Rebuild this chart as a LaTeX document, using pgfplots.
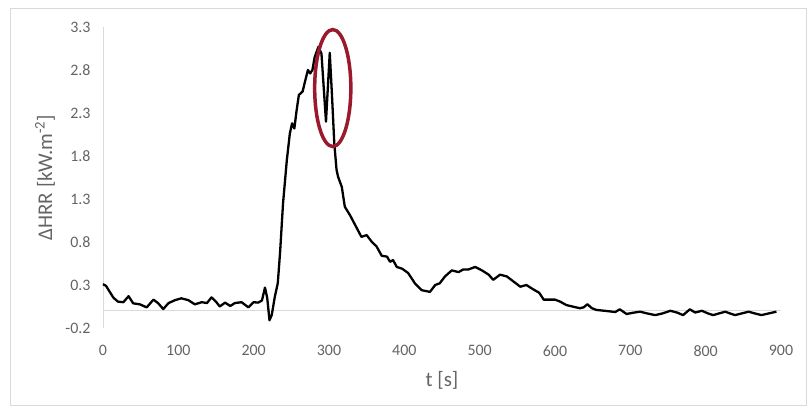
\documentclass[border=0pt]{standalone}
\usepackage{fontspec}
\setmainfont{Carlito}
\usepackage{pgfplots}
\pgfplotsset{compat=1.18}

\definecolor{axisgray}{RGB}{217,217,217}
\definecolor{labelgray}{RGB}{100,100,100}
\definecolor{ringred}{RGB}{155,25,45}

\begin{document}
\begin{tikzpicture}
% page = 808x407 px, axis box lower left at (0,0)
\useasboundingbox (-103bp,-79bp) rectangle (705bp,328bp);
\draw[axisgray, line width=0.8bp] (-93bp,-77bp) rectangle (703bp,320bp);
\begin{axis}[
scale only axis,
width=678bp, height=301bp,
xmin=0, xmax=900,
ymin=-0.2, ymax=3.3,
axis lines*=left,
x axis line style={draw=none},
y axis line style={draw=axisgray, line width=0.8bp},
xtick={0,100,200,300,400,500,600,700,800,900},
xticklabels={0,100,200,300,400,500,600,700,800,900},
ytick={-0.2,0.3,0.8,1.3,1.8,2.3,2.8,3.3},
yticklabels={-0.2,0.3,0.8,1.3,1.8,2.3,2.8,3.3},
extra y ticks={0},
extra y tick labels={},
extra y tick style={grid=major, major grid style={draw=axisgray, line width=0.8bp}},
major tick length=0pt,
tick label style={font=\fontsize{16}{18}\selectfont, text=labelgray},
xticklabel style={yshift=-14bp},
yticklabel style={xshift=-9bp},
every axis x label/.style={at={(axis description cs:0.5,-0.1728)}, anchor=center},
every axis y label/.style={at={(axis description cs:-0.0855,0.5)}, rotate=90, anchor=center},
label style={font=\fontsize{21}{24}\selectfont, text=labelgray},
xlabel={t [s]},
ylabel={ΔHRR [kW.m\textsuperscript{-2}]},
clip=false,
]
\addplot[black, line width=2.3bp, line join=round] coordinates {
(0,0.31)(4,0.29)(9,0.22)(14,0.15)(20,0.106)(27,0.10)(34,0.17)(40,0.087)
(49,0.075)(58,0.04)(67,0.13)(73,0.09)(80,0.02)(87,0.09)(96,0.125)(104,0.145)
(113,0.125)(122,0.075)(131,0.10)(138,0.09)(144,0.156)(150,0.106)(155,0.05)
(162,0.095)(169,0.056)(175,0.09)(184,0.10)(193,0.04)(200,0.10)(206,0.095)
(211,0.12)(215,0.27)(218,0.15)(221,-0.11)(224,-0.05)(228,0.16)(232,0.32)
(235,0.67)(239,1.25)(244,1.75)(248,2.06)(251,2.18)(254,2.12)(257,2.33)
(260,2.51)(265,2.55)(268,2.66)(272,2.80)(275,2.76)(278,2.80)(281,2.95)
(286,3.07)(290,2.99)(296,2.20)(301,3.00)(304,2.50)(307,1.95)(310,1.64)
(312,1.56)(317,1.44)(321,1.21)(328,1.11)(337,0.96)(343,0.86)(350,0.88)
(357,0.80)(363,0.75)(370,0.64)(377,0.63)(381,0.57)(385,0.59)(390,0.51)
(397,0.49)(405,0.44)(414,0.32)(423,0.24)(434,0.22)(441,0.30)(447,0.32)
(454,0.40)(463,0.47)(472,0.45)(478,0.48)(485,0.48)(494,0.51)(503,0.47)
(512,0.42)(518,0.36)(527,0.42)(536,0.40)(545,0.34)(554,0.28)(562,0.30)
(571,0.25)(579,0.21)(585,0.13)(593,0.13)(600,0.13)(607,0.106)(615,0.067)
(624,0.048)(633,0.03)(638,0.04)(643,0.076)(649,0.03)(655,0.01)(666,0.0)
(673,-0.007)(680,-0.014)(686,0.017)(695,-0.037)(704,-0.022)(713,-0.01)
(722,-0.03)(733,-0.05)(743,-0.03)(753,0.0)(762,-0.02)(770,-0.05)(779,0.017)
(786,-0.02)(795,0.0)(803,-0.03)(810,-0.05)(818,-0.03)(826,-0.01)(832,-0.03)
(839,-0.05)(848,-0.03)(857,-0.01)(865,-0.03)(874,-0.05)(884,-0.03)(894,-0.01)
};
% highlight ring round the double peak
\draw[ringred, line width=3.5bp] (axis cs:305,2.59) ellipse [x radius=24, y radius=0.68];
\end{axis}
\end{tikzpicture}
\end{document}
